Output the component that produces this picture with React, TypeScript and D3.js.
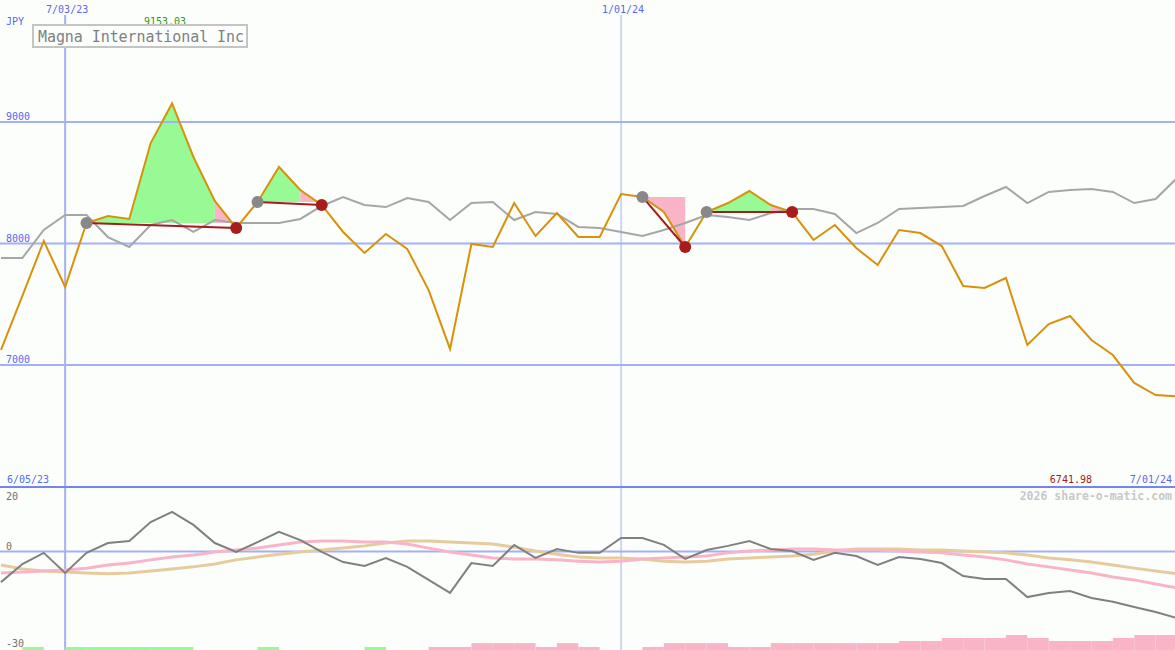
import { scaleLinear, scaleTime, line, area, timeMonday, maxIndex } from "d3";

// weekly closes, Magna International Inc (JPY)
const weeks = timeMonday.range(new Date(2023, 5, 12), new Date(2024, 6, 2));

const price = [
  7124, 7568, 8021, 7642, 8169, 8226, 8202, 8827, 9153.03, 8712,
  8350, 8128, 8342, 8630, 8440, 8317, 8095, 7922, 8078, 7955,
  7617, 7132, 7996, 7971, 8333, 8062, 8251, 8054, 8054, 8407,
  8383, 8259, 7971, 8259, 8333, 8432, 8317, 8259, 8029, 8152,
  7963, 7823, 8111, 8086, 7979, 7650, 7634, 7716, 7165, 7337,
  7403, 7206, 7082, 6852, 6753, 6741.98,
];

const benchmark = [
  7881, 7881, 8111, 8235, 8235, 8053, 7971, 8152, 8193, 8095,
  8193, 8169, 8169, 8169, 8202, 8309, 8383, 8317, 8300, 8374,
  8342, 8193, 8333, 8342, 8193, 8259, 8243, 8136, 8128, 8095,
  8062, 8111, 8169, 8235, 8218, 8193, 8251, 8284, 8284, 8243,
  8086, 8169, 8284, 8292, 8300, 8309, 8391, 8465, 8333, 8424,
  8440, 8449, 8424, 8333, 8366, 8539,
];

const momentum = [
  -9.6, -3.9, -0.4, -6.7, -0.4, 2.7, 3.3, 9.3, 12.5, 8.4,
  2.7, -0.1, 3.0, 6.2, 3.6, -0.1, -3.3, -4.5, -2.0, -4.8,
  -8.9, -13.0, -3.6, -4.5, 2.1, -2.0, 0.8, -0.4, -0.4, 4.3,
  4.3, 2.1, -2.3, 0.5, 1.8, 3.3, 0.8, 0.2, -2.6, -0.4,
  -1.4, -4.2, -1.7, -2.3, -3.6, -7.7, -8.6, -8.6, -14.3, -13.0,
  -12.4, -14.6, -15.8, -17.4, -19.0, -20.9,
];

const fastAvg = [
  -6.7, -6.4, -6.1, -5.8, -5.2, -4.2, -3.6, -2.6, -1.7, -1.1,
  -0.1, 0.5, 1.1, 2.1, 3.0, 3.3, 3.3, 3.0, 3.0, 2.4,
  1.1, -0.1, -1.1, -2.0, -2.3, -2.3, -2.6, -3.0, -3.3, -3.0,
  -2.3, -2.0, -1.7, -1.4, -0.4, 0.2, 0.5, 0.8, 0.8, 0.5,
  0.5, 0.5, 0.2, -0.1, -0.4, -1.1, -1.7, -2.6, -3.9, -4.8,
  -5.8, -6.7, -8.0, -8.9, -10.2, -11.4,
];

const slowAvg = [
  -4.2, -5.5, -6.1, -6.4, -6.7, -7.0, -6.7, -6.1, -5.5, -4.8,
  -3.9, -2.6, -1.7, -0.8, -0.1, 0.5, 1.1, 1.8, 2.7, 3.3,
  3.3, 3.0, 2.7, 2.4, 1.4, 0.2, -0.8, -1.7, -2.0, -2.0,
  -2.3, -3.0, -3.3, -3.0, -2.3, -2.0, -1.7, -1.4, -0.8, 0.2,
  0.8, 0.8, 0.8, 0.5, 0.5, 0.2, -0.1, -0.4, -1.1, -2.0,
  -2.6, -3.3, -4.2, -5.2, -6.1, -7.0,
];

// + = green block, - = pink block
const signal = [
  0, 1, 0, 1, 1, 1, 1, 1, 1, 0,
  0, 0, 1, 0, 0, 0, 0, 1, 0, 0,
  -1, -1, -2.3, -2.3, -2.3, -1, -2.3, -1, 0, 0,
  -1, -2.3, -2.3, -2.3, -1, -1, -2.3, -2.3, -2.3, -2.3,
  -2.3, -2.3, -3, -3, -4, -4, -4, -5, -4, -3,
  -3, -3, -4, -5, -5, 0,
];

// entry / exit week indexes, pink from "fade" to exit
const trades = [
  { entry: 4, exit: 11, fade: 10 },
  { entry: 12, exit: 15, fade: 14 },
  { entry: 30, exit: 32, fade: 30 },
  { entry: 33, exit: 37, fade: 36 },
];

const priceTicks = [9000, 8000, 7000];
const oscTicks = [20, 0, -30];
const markDates = [new Date(2023, 6, 3), new Date(2024, 0, 1)];
const markLabels = ["7/03/23", "1/01/24"];
const startLabel = "6/05/23";
const endLabel = "7/01/24";
const title = "Magna International Inc";
const currency = "JPY";
const credit = "2026 share-o-matic.com";

const W = 1175;
const H = 650;
const mono = "'DejaVu Sans Mono', monospace";
const blue = "#5868f0";
const gridBlue = "#a4b0f4";

export default function App() {
  const x = scaleTime()
    .domain([weeks[0], weeks[weeks.length - 1]])
    .range([1, 1177]);
  const xi = (i: number) => x(weeks[i]);
  const step = xi(1) - xi(0);

  const y = scaleLinear().domain([7000, 9000]).range([365, 122]);
  const yo = scaleLinear().domain([-30, 20]).range([647, 488]);
  const yb = scaleLinear().domain([0, 5]).range([H, H - 15]);

  const priceLine = line<number>()
    .x((_, i) => xi(i))
    .y((d) => y(d));
  const oscLine = line<number>()
    .x((_, i) => xi(i))
    .y((d) => yo(d));

  const fill = (from: number, to: number, level: number) =>
    area<number>()
      .x((i) => xi(i))
      .y0(y(level))
      .y1((i) => y(price[i]))(
      Array.from({ length: to - from + 1 }, (_, k) => from + k)
    ) ?? "";

  const top = maxIndex(price);
  const last = price.length - 1;

  return (
    <>
      <style>{`body{margin:0}`}</style>
      <svg width={W} height={H} style={{ display: "block", background: "#fcfefc" }}>
        <rect width={W} height={H} fill="#fcfefc" />

        {trades.map((t, k) => (
          <g key={`fill-${k}`}>
            {t.fade > t.entry && (
              <path d={fill(t.entry, t.fade, price[t.entry])} fill="#98fa94" />
            )}
            <path d={fill(t.fade, t.exit, price[t.entry])} fill="#f9b4c8" />
          </g>
        ))}

        {/* grid */}
        {priceTicks.map((v) => (
          <g key={`pt-${v}`}>
            <line x1={0} x2={W} y1={y(v)} y2={y(v)} stroke={gridBlue} strokeWidth={2} />
            <text x={6} y={y(v) - 2} fontFamily={mono} fontSize={10} fill={blue}>
              {v}
            </text>
          </g>
        ))}
        <line x1={0} x2={W} y1={yo(0)} y2={yo(0)} stroke={gridBlue} strokeWidth={2} />
        {markDates.map((d, k) => (
          <g key={`md-${k}`}>
            <line
              x1={x(d)}
              x2={x(d)}
              y1={15}
              y2={H}
              stroke={gridBlue}
              strokeWidth={k === 0 ? 2 : 1}
            />
            <text
              x={x(d) + 2}
              y={13}
              textAnchor="middle"
              fontFamily={mono}
              fontSize={10}
              fill={blue}
            >
              {markLabels[k]}
            </text>
          </g>
        ))}
        <line x1={0} x2={W} y1={487} y2={487} stroke="#7484f0" strokeWidth={2} />

        {/* price panel */}
        <path d={priceLine(benchmark) ?? ""} fill="none" stroke="#a6a6a6" strokeWidth={2} />
        <path d={priceLine(price) ?? ""} fill="none" stroke="#d8920a" strokeWidth={2} />

        {trades.map((t, k) => (
          <g key={`tr-${k}`}>
            <line
              x1={xi(t.entry)}
              y1={y(price[t.entry])}
              x2={xi(t.exit)}
              y2={y(price[t.exit])}
              stroke="#a01e1e"
              strokeWidth={2}
            />
            <circle cx={xi(t.entry)} cy={y(price[t.entry])} r={6} fill="#888888" />
            <circle cx={xi(t.exit)} cy={y(price[t.exit])} r={6} fill="#a81c1c" />
          </g>
        ))}

        <text x={6} y={25} fontFamily={mono} fontSize={10} fill={blue}>
          {currency}
        </text>
        <text
          x={xi(top) - 7}
          y={25}
          textAnchor="middle"
          fontFamily={mono}
          fontSize={10}
          fill="#18a018"
        >
          {price[top].toFixed(2)}
        </text>
        <rect x={33} y={25} width={214} height={22} fill="#fcfefc" stroke="#c4c4c4" strokeWidth={2} />
        <text x={38} y={42} fontFamily={mono} fontSize={15} fill="#808080" textLength={206}>
          {title}
        </text>

        <text x={7} y={483} fontFamily={mono} fontSize={10} fill={blue}>
          {startLabel}
        </text>
        <text x={1092} y={483} textAnchor="end" fontFamily={mono} fontSize={10} fill="#a02020">
          {price[last].toFixed(2)}
        </text>
        <text x={1172} y={483} textAnchor="end" fontFamily={mono} fontSize={10} fill={blue}>
          {endLabel}
        </text>
        <text
          x={1172}
          y={500}
          textAnchor="end"
          fontFamily={mono}
          fontSize={11.5}
          fontWeight="bold"
          fill="#c8c8c8"
        >
          {credit}
        </text>

        {/* oscillator panel */}
        {signal.map((v, i) =>
          v === 0 ? null : (
            <rect
              key={`sg-${i}`}
              x={xi(i)}
              y={yb(Math.abs(v))}
              width={step}
              height={H - yb(Math.abs(v))}
              fill={v > 0 ? "#98fa94" : "#f9b4c8"}
            />
          )
        )}
        <path d={oscLine(slowAvg) ?? ""} fill="none" stroke="#e6cc9c" strokeWidth={3} />
        <path d={oscLine(fastAvg) ?? ""} fill="none" stroke="#f9b4c8" strokeWidth={3} />
        <path d={oscLine(momentum) ?? ""} fill="none" stroke="#808080" strokeWidth={2} />

        {oscTicks.map((v, k) => (
          <text
            key={`ot-${v}`}
            x={6}
            y={k === 0 ? yo(v) + 12 : k === 1 ? yo(v) - 2 : yo(v)}
            fontFamily={mono}
            fontSize={10}
            fill="#707070"
          >
            {v}
          </text>
        ))}
      </svg>
    </>
  );
}
